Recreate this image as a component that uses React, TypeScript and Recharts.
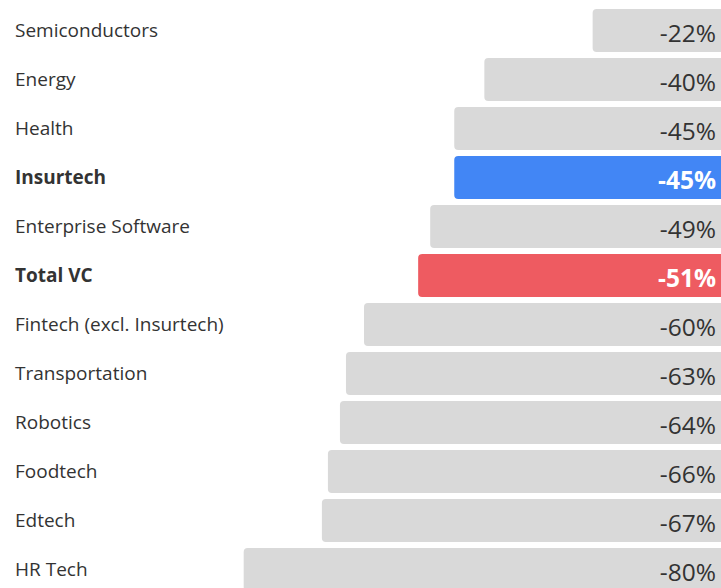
import React from "react";
import { BarChart, Bar, XAxis, YAxis, Cell, LabelList } from "recharts";

const categories = [
  "Semiconductors",
  "Energy",
  "Health",
  "Insurtech",
  "Enterprise Software",
  "Total VC",
  "Fintech (excl. Insurtech)",
  "Transportation",
  "Robotics",
  "Foodtech",
  "Edtech",
  "HR Tech",
];
const changes = [-22, -40, -45, -45, -49, -51, -60, -63, -64, -66, -67, -80];

// highlighted rows get their own colour and bold text
const highlightColors: Record<string, string> = {
  Insurtech: "#4286f5",
  "Total VC": "#ee5b61",
};

const data = categories.map((name, i) => ({ name, change: changes[i] }));

const FONT = "'Open Sans', sans-serif";

function NameLabel(props: any) {
  const { y, height, index } = props;
  const name = categories[index];
  const bold = name in highlightColors;
  return (
    <text
      x={15}
      y={y + height / 2 - 1}
      dominantBaseline="central"
      fontFamily={FONT}
      fontSize={19}
      fontWeight={bold ? 700 : 400}
      fill="#333"
    >
      {name}
    </text>
  );
}

function ValueLabel(props: any) {
  const { y, height, index } = props;
  const name = categories[index];
  const bold = name in highlightColors;
  return (
    <text
      x={716}
      y={y + height / 2 + 2}
      dominantBaseline="central"
      textAnchor="end"
      fontFamily={FONT}
      fontSize={24.5}
      fontWeight={bold ? 700 : 400}
      fill={bold ? "#fff" : "#333"}
    >
      {`${changes[index]}%`}
    </text>
  );
}

export default function App() {
  return (
    <div
      style={{
        position: "fixed",
        left: 0,
        top: 0,
        width: 721,
        height: 588,
        overflow: "hidden",
        background: "#fff",
      }}
    >
      <BarChart
        width={725}
        height={594}
        data={data}
        layout="vertical"
        margin={{ top: 6, right: 0, bottom: 0, left: 0 }}
        barCategoryGap={3}
      >
        <XAxis type="number" domain={[-120.5, 0]} hide />
        <YAxis type="category" dataKey="name" hide />
        <Bar dataKey="change" radius={4} isAnimationActive={false}>
          {data.map((d) => (
            <Cell key={d.name} fill={highlightColors[d.name] || "#d9d9d9"} />
          ))}
          <LabelList dataKey="name" content={NameLabel} />
          <LabelList dataKey="change" content={ValueLabel} />
        </Bar>
      </BarChart>
    </div>
  );
}
